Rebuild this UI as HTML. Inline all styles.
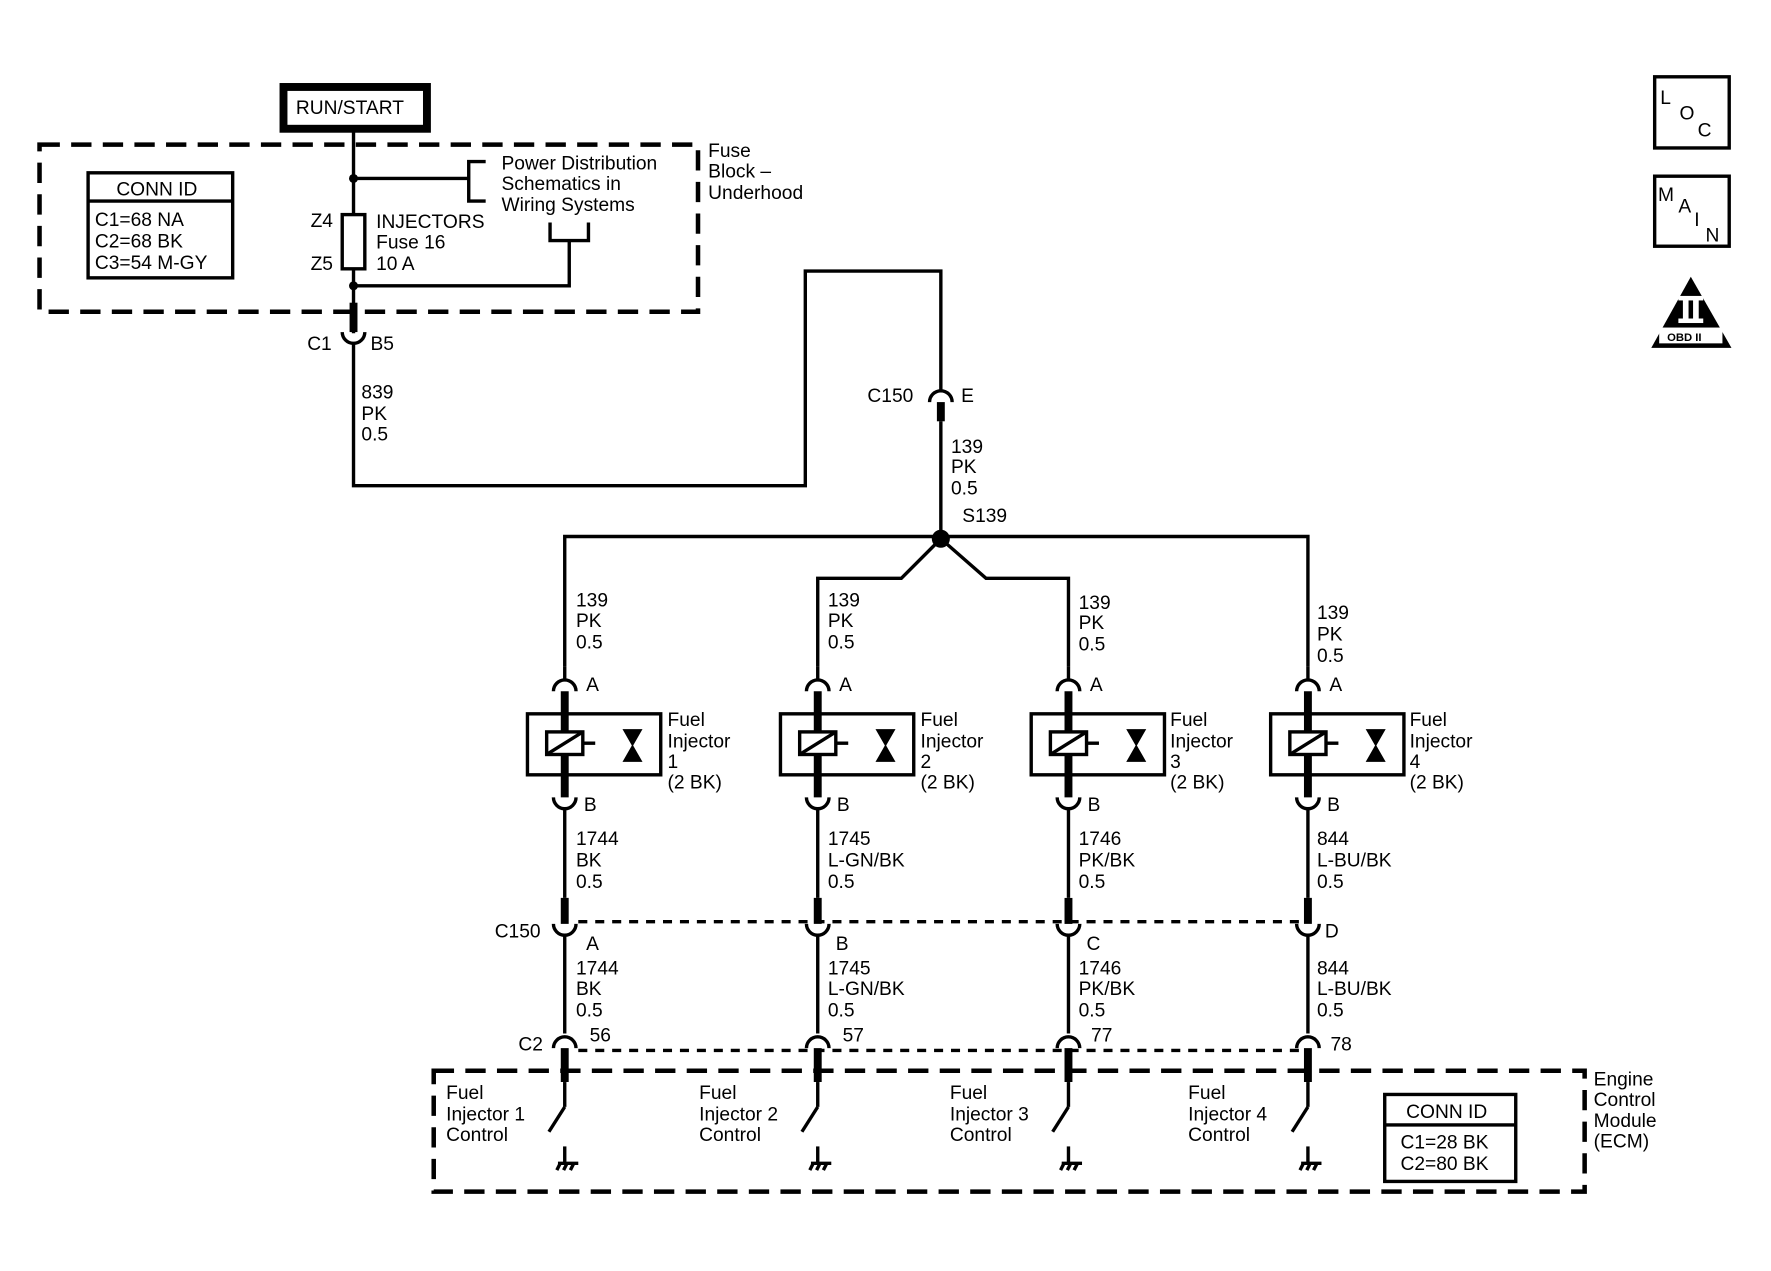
<!DOCTYPE html>
<html><head><meta charset="utf-8"><style>
html,body{margin:0;padding:0;background:#fff}
svg{display:block}
text{font-family:"Liberation Sans",Arial,sans-serif;font-size:17px;fill:#000}
</style></head><body>
<svg width="1771" height="1271" viewBox="0 0 1568 1125.3" preserveAspectRatio="none" xmlns="http://www.w3.org/2000/svg">
<g fill="none" stroke="#000" stroke-width="3">
<rect x="251" y="77" width="127" height="37" stroke-width="7"/>
<rect x="35" y="128" width="583" height="148" stroke-width="4" stroke-dasharray="18 10"/>
<rect x="78" y="153" width="128" height="93"/>
<line x1="78" y1="178" x2="206" y2="178"/>
<line x1="313" y1="114" x2="313" y2="190"/>
<rect x="303" y="190" width="20" height="48"/>
<line x1="313" y1="238" x2="313" y2="295"/>
<line x1="313" y1="268" x2="313" y2="294" stroke-width="7"/>
<line x1="313" y1="158" x2="415" y2="158"/>
<polyline points="430,143 415,143 415,178 430,178"/>
<polyline points="487,197 487,213 521,213 521,197"/>
<polyline points="504,213 504,253 313,253"/>
<path d="M303,294 A10,10 0 0 0 323,294"/>
<polyline points="313,305 313,430 713,430 713,240 833,240 833,345"/>
<path d="M823,356 A10,10 0 0 1 843,356"/>
<line x1="833" y1="356" x2="833" y2="373" stroke-width="7"/>
<line x1="833" y1="373" x2="833" y2="477"/>
<polyline points="500,590 500,475 1158,475 1158,590"/>
<polyline points="833,477 798,512 724,512 724,590"/>
<polyline points="833,477 873,512 946,512 946,590"/>
<rect x="384" y="948" width="1019" height="107" stroke-width="4" stroke-dasharray="18 10"/>
<rect x="1226" y="969" width="116" height="77"/>
<line x1="1226" y1="996" x2="1342" y2="996"/>
<line x1="512" y1="816" x2="1150" y2="816" stroke-dasharray="8 7"/>
<line x1="512" y1="930" x2="1150" y2="930" stroke-dasharray="8 7"/>
<rect x="1465" y="68" width="66" height="63"/>
<rect x="1465" y="156" width="66" height="62"/>
</g>
<circle cx="313" cy="158" r="4"/>
<circle cx="313" cy="253" r="4"/>
<circle cx="833" cy="477" r="8"/>
<polygon points="1497,245 1462,308 1533,308"/>
<rect x="1469" y="290" width="56" height="14" fill="#fff"/>
<g fill="#fff">
<rect x="1486" y="262" width="22" height="4"/><rect x="1486" y="282" width="22" height="4"/>
<rect x="1490" y="264" width="5" height="20"/><rect x="1499" y="264" width="5" height="20"/>
</g>

<g fill="none" stroke="#000" stroke-width="3">
<defs>
<g id="inj">
<line x1="0" y1="590" x2="0" y2="602"/>
<path d="M-10,612 A10,10 0 0 1 10,612"/>
<line x1="0" y1="612" x2="0" y2="706" stroke-width="7"/>
<rect x="-33" y="632" width="118" height="54"/>
<rect x="-16" y="648" width="32" height="20" fill="#fff"/>
<line x1="-16" y1="668" x2="16" y2="648"/>
<line x1="16" y1="658" x2="27" y2="658"/>
<polygon points="52,646 68,646 60,660" fill="#000" stroke-width="1"/>
<polygon points="52,674 68,674 60,660" fill="#000" stroke-width="1"/>
<path d="M-10,706 A10,10 0 0 0 10,706"/>
<line x1="0" y1="716" x2="0" y2="795"/>
<line x1="0" y1="795" x2="0" y2="818" stroke-width="7"/>
<path d="M-10,818 A10,10 0 0 0 10,818"/>
<line x1="0" y1="828" x2="0" y2="915"/>
<path d="M-10,928 A10,10 0 0 1 10,928"/>
<line x1="0" y1="928" x2="0" y2="958" stroke-width="7"/>
<line x1="0" y1="958" x2="0" y2="980"/>
<line x1="0" y1="980" x2="-14" y2="1002"/>
<line x1="0" y1="1015" x2="0" y2="1030"/>
<line x1="-6" y1="1030" x2="12" y2="1030"/>
<line x1="-4" y1="1030" x2="-7" y2="1036"/><line x1="2" y1="1030" x2="-1" y2="1036"/><line x1="8" y1="1030" x2="5" y2="1036"/>
</g>
</defs>
<use href="#inj" x="500"/>
<use href="#inj" x="724"/>
<use href="#inj" x="946"/>
<use href="#inj" x="1158"/>
</g>

<text x="262" y="101">RUN/START</text>
<text x="103" y="173">CONN ID</text>
<text x="84" y="200">C1=68 NA</text>
<text x="84" y="219">C2=68 BK</text>
<text x="84" y="238">C3=54 M-GY</text>
<text x="275" y="201">Z4</text>
<text x="275" y="239">Z5</text>
<text x="333" y="202">INJECTORS</text>
<text x="333" y="220">Fuse 16</text>
<text x="333" y="239">10 A</text>
<text x="444" y="150">Power Distribution</text>
<text x="444" y="168">Schematics in</text>
<text x="444" y="187">Wiring Systems</text>
<text x="627" y="139">Fuse</text>
<text x="627" y="157">Block –</text>
<text x="627" y="176">Underhood</text>
<text x="272" y="310">C1</text>
<text x="328" y="310">B5</text>
<text x="320" y="353">839</text><text x="320" y="372">PK</text><text x="320" y="390">0.5</text>
<text x="768" y="356">C150</text><text x="851" y="356">E</text>
<text x="842" y="401">139</text><text x="842" y="419">PK</text><text x="842" y="438">0.5</text>
<text x="852" y="462">S139</text>

<text x="510" y="537">139</text><text x="510" y="555">PK</text><text x="510" y="574">0.5</text>
<text x="733" y="537">139</text><text x="733" y="555">PK</text><text x="733" y="574">0.5</text>
<text x="955" y="539">139</text><text x="955" y="557">PK</text><text x="955" y="576">0.5</text>
<text x="1166" y="548">139</text><text x="1166" y="567">PK</text><text x="1166" y="586">0.5</text>

<text x="519" y="612">A</text><text x="743" y="612">A</text><text x="965" y="612">A</text><text x="1177" y="612">A</text>
<text x="591" y="643">Fuel</text><text x="591" y="662">Injector</text><text x="591" y="680">1</text><text x="591" y="698">(2 BK)</text>
<text x="815" y="643">Fuel</text><text x="815" y="662">Injector</text><text x="815" y="680">2</text><text x="815" y="698">(2 BK)</text>
<text x="1036" y="643">Fuel</text><text x="1036" y="662">Injector</text><text x="1036" y="680">3</text><text x="1036" y="698">(2 BK)</text>
<text x="1248" y="643">Fuel</text><text x="1248" y="662">Injector</text><text x="1248" y="680">4</text><text x="1248" y="698">(2 BK)</text>
<text x="517" y="718">B</text><text x="741" y="718">B</text><text x="963" y="718">B</text><text x="1175" y="718">B</text>
<text x="510" y="748">1744</text><text x="510" y="767">BK</text><text x="510" y="786">0.5</text>
<text x="733" y="748">1745</text><text x="733" y="767">L-GN/BK</text><text x="733" y="786">0.5</text>
<text x="955" y="748">1746</text><text x="955" y="767">PK/BK</text><text x="955" y="786">0.5</text>
<text x="1166" y="748">844</text><text x="1166" y="767">L-BU/BK</text><text x="1166" y="786">0.5</text>
<text x="438" y="830">C150</text>
<text x="519" y="841">A</text><text x="740" y="841">B</text><text x="962" y="841">C</text><text x="1173" y="830">D</text>
<text x="510" y="863">1744</text><text x="510" y="881">BK</text><text x="510" y="900">0.5</text>
<text x="733" y="863">1745</text><text x="733" y="881">L-GN/BK</text><text x="733" y="900">0.5</text>
<text x="955" y="863">1746</text><text x="955" y="881">PK/BK</text><text x="955" y="900">0.5</text>
<text x="1166" y="863">844</text><text x="1166" y="881">L-BU/BK</text><text x="1166" y="900">0.5</text>
<text x="459" y="930">C2</text>
<text x="522" y="922">56</text><text x="746" y="922">57</text><text x="966" y="922">77</text><text x="1178" y="930">78</text>
<text x="395" y="973">Fuel</text><text x="395" y="992">Injector 1</text><text x="395" y="1010">Control</text>
<text x="619" y="973">Fuel</text><text x="619" y="992">Injector 2</text><text x="619" y="1010">Control</text>
<text x="841" y="973">Fuel</text><text x="841" y="992">Injector 3</text><text x="841" y="1010">Control</text>
<text x="1052" y="973">Fuel</text><text x="1052" y="992">Injector 4</text><text x="1052" y="1010">Control</text>
<text x="1245" y="990">CONN ID</text>
<text x="1240" y="1017">C1=28 BK</text>
<text x="1240" y="1036">C2=80 BK</text>
<text x="1411" y="961">Engine</text><text x="1411" y="979">Control</text><text x="1411" y="998">Module</text><text x="1411" y="1016">(ECM)</text>
<text x="1470" y="92">L</text><text x="1487" y="106">O</text><text x="1503" y="121">C</text>
<text x="1468" y="178">M</text><text x="1486" y="188">A</text><text x="1500" y="200">I</text><text x="1510" y="214">N</text>
<text x="1476" y="302" style="font-size:10px;font-weight:bold">OBD II</text>
</svg>
</body></html>
